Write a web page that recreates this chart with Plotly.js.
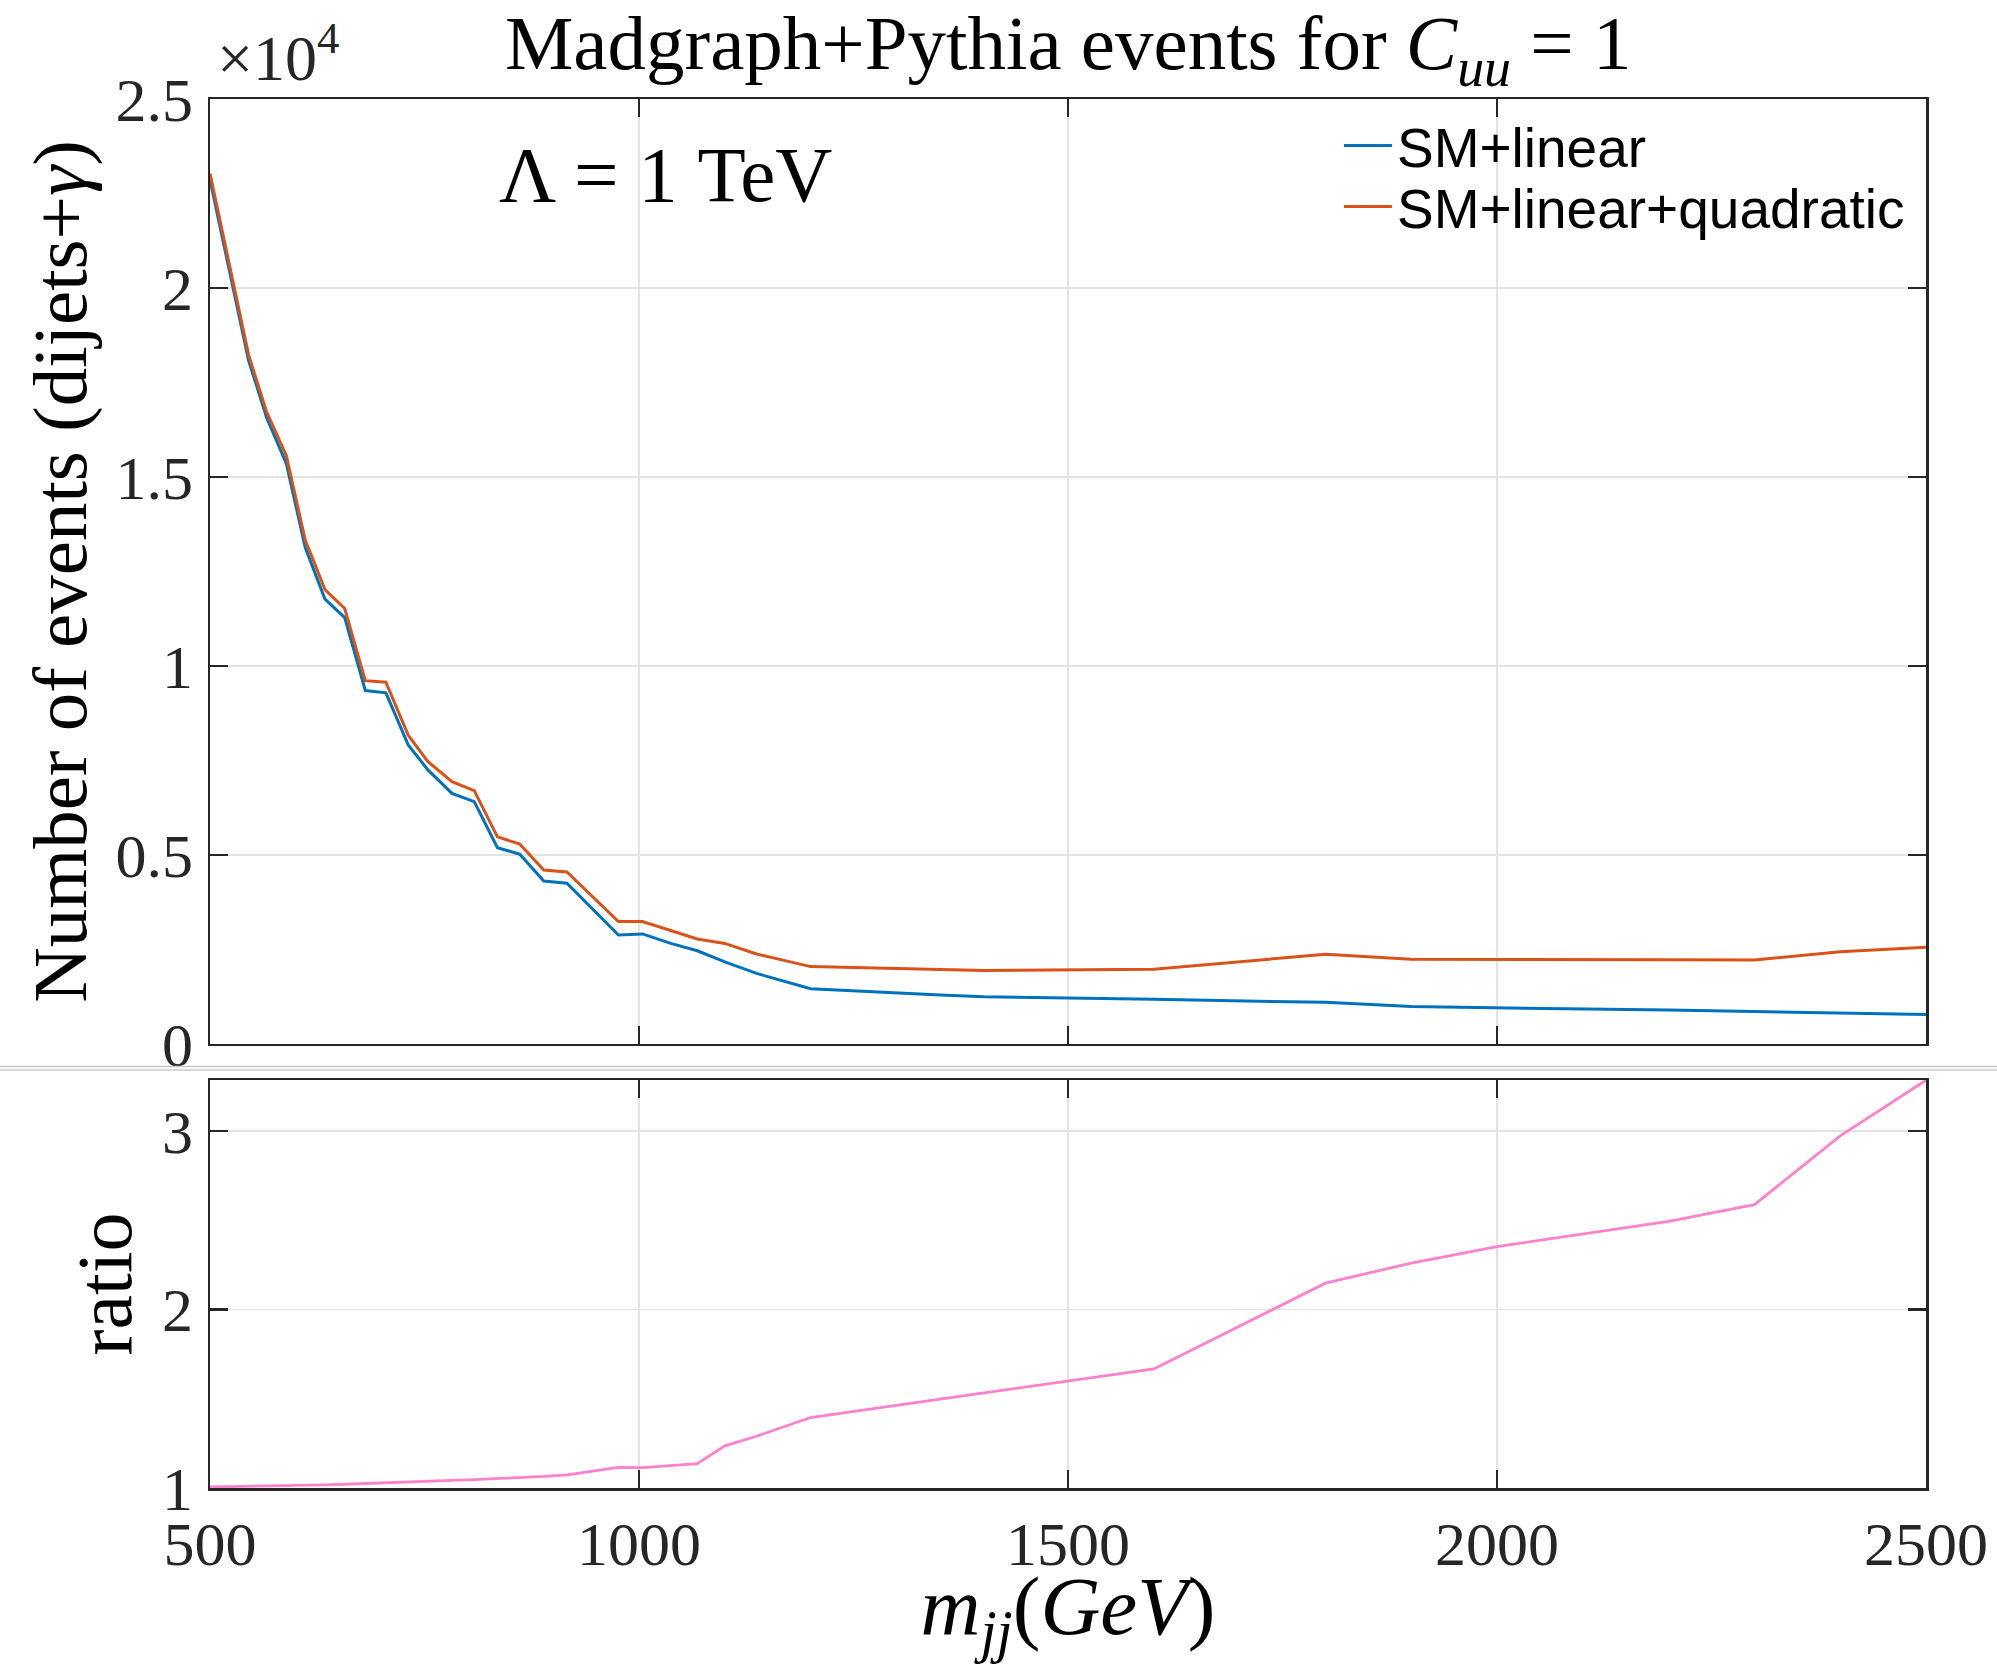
<!DOCTYPE html>
<html>
<head>
<meta charset="utf-8">
<script src="https://cdn.plot.ly/plotly-3.0.1.min.js"></script>
<style>html,body{margin:0;padding:0;background:#fff;}#chart{width:1997px;height:1664px;}</style>
</head>
<body>
<div id="chart"></div>
<script>
// m_jj bin positions (GeV)
const mjj = [500, 545, 566, 589, 611, 634, 657, 681, 705, 731, 754, 782, 808, 835, 861, 889, 916,
             976, 1004, 1037, 1068, 1100, 1137, 1200, 1351, 1402, 1600, 1800, 1900, 2000, 2200, 2300, 2400, 2500];
// SM+linear event counts
const smLinear = [22860, 18080, 16570, 15350, 13130, 11770, 11280, 9350, 9290, 7910, 7250, 6630, 6410, 5190, 5020, 4310, 4250,
                  2880, 2910, 2660, 2465, 2170, 1865, 1460, 1296, 1250, 1180, 1100, 988, 960, 895, 855, 820, 776];
// SM+linear+quadratic event counts
const smLinQuad = [23030, 18230, 16720, 15560, 13330, 12020, 11520, 9610, 9570, 8170, 7470, 6940, 6700, 5480, 5290, 4600, 4550,
                   3236, 3240, 3000, 2775, 2660, 2380, 2046, 1976, 1940, 1975, 2373, 2240, 2240, 2230, 2220, 2440, 2560];
// ratio (SM+lin+quad / SM+lin)
const ratio = [1.006, 1.009, 1.010, 1.012, 1.014, 1.018, 1.021, 1.026, 1.030, 1.033, 1.037, 1.043, 1.047, 1.053, 1.056, 1.065, 1.074,
               1.116, 1.114, 1.125, 1.136, 1.236, 1.29, 1.395, 1.50, 1.533, 1.667, 2.148, 2.26, 2.353, 2.494, 2.588, 2.973, 3.285];

const yTickVals = [0, 5000, 10000, 15000, 20000, 25000];
const yTickText = ['0', '0.5', '1', '1.5', '2', '2.5'];
const xTickVals = [500, 1000, 1500, 2000, 2500];
const rTickVals = [1, 2, 3];

const serif = 'Liberation Serif, Times New Roman, serif';
const sans = 'Liberation Sans, Arial, sans-serif';
const axCol = '#262626';
const gridCol = '#e3e3e3';

const traces = [
  {x: mjj, y: smLinear, xaxis: 'x2', yaxis: 'y2', type: 'scatter', mode: 'lines', name: 'SM+linear',
   legend: 'legend', line: {color: '#0072BD', width: 3}},
  {x: mjj, y: smLinQuad, xaxis: 'x2', yaxis: 'y2', type: 'scatter', mode: 'lines', name: 'SM+linear+quadratic',
   legend: 'legend2', line: {color: '#D95319', width: 3}},
  {x: mjj, y: ratio, xaxis: 'x', yaxis: 'y', type: 'scatter', mode: 'lines', name: 'ratio', showlegend: false,
   line: {color: '#FF80CC', width: 2.8}}
];

const common = {
  showline: true, linecolor: axCol, linewidth: 2.5, mirror: 'ticks',
  ticks: 'inside', ticklen: 18, tickwidth: 2.5, tickcolor: axCol,
  showgrid: true, gridcolor: gridCol, gridwidth: 1.5, zeroline: false,
  tickfont: {family: serif, size: 62, color: '#262626'}
};

const legendCommon = {x: 0.6579, xanchor: 'left', yanchor: 'top', bgcolor: 'rgba(0,0,0,0)', borderwidth: 0,
                      itemwidth: 48, font: {family: sans, size: 55, color: '#000'}};

const layout = {
  width: 1997, height: 1664,
  margin: {l: 210, r: 71, t: 99, b: 176},
  paper_bgcolor: '#fff', plot_bgcolor: '#fff',
  showlegend: true,
  title: {text: 'Madgraph+Pythia events for <i>C</i><sub><i>uu</i></sub> = 1',
          font: {family: serif, size: 77, color: '#000'}, x: 0.5349, xanchor: 'center', y: 0.9745, yanchor: 'middle'},
  xaxis: Object.assign({}, common, {domain: [0, 1], anchor: 'y', range: [500, 2500], tickvals: xTickVals,
          ticklabelstandoff: 0,
          title: {text: '<i>m</i><sub><i>jj</i></sub>(<i>GeV</i>)', font: {family: serif, size: 83, color: '#000'}, standoff: 36}}),
  yaxis: Object.assign({}, common, {domain: [0, 0.2937], anchor: 'x', range: [1, 3.286], tickvals: rTickVals,
          ticklabelstandoff: 2,
          title: {text: 'ratio', font: {family: serif, size: 78, color: '#000'}, standoff: 5}}),
  xaxis2: Object.assign({}, common, {domain: [0, 1], anchor: 'y2', range: [500, 2500], tickvals: xTickVals,
          showticklabels: false, matches: 'x'}),
  yaxis2: Object.assign({}, common, {domain: [0.3197, 1], anchor: 'x2', range: [0, 25000], tickvals: yTickVals,
          ticktext: yTickText, ticklabelstandoff: 2,
          title: {text: 'Number of events (dijets+<i>γ</i>)', font: {family: serif, size: 77, color: '#000'}, standoff: 4}}),
  legend: Object.assign({}, legendCommon, {y: 0.997}),
  legend2: Object.assign({}, legendCommon, {y: 0.953}),
  annotations: [
    {text: '×10<sup>4</sup>', xref: 'paper', yref: 'paper', x: 0.003, y: 1.033, xanchor: 'left', yanchor: 'middle',
     showarrow: false, font: {family: serif, size: 64, color: '#262626'}},
    {text: 'Λ = 1 TeV', xref: 'x2', yref: 'paper', x: 835, y: 0.946, xanchor: 'left', yanchor: 'middle',
     showarrow: false, font: {family: serif, size: 79, color: '#000'}}
  ],
  shapes: [
    {type: 'line', xref: 'paper', yref: 'paper', x0: -0.2, x1: 1.1, y0: 0.3034, y1: 0.3034,
     line: {color: '#c8c8c8', width: 1.5}},
    {type: 'line', xref: 'paper', yref: 'paper', x0: -0.2, x1: 1.1, y0: 0.3010, y1: 0.3010,
     line: {color: '#c8c8c8', width: 1.5}}
  ]
};

Plotly.newPlot('chart', traces, layout, {displayModeBar: false, staticPlot: true});
</script>
</body>
</html>
